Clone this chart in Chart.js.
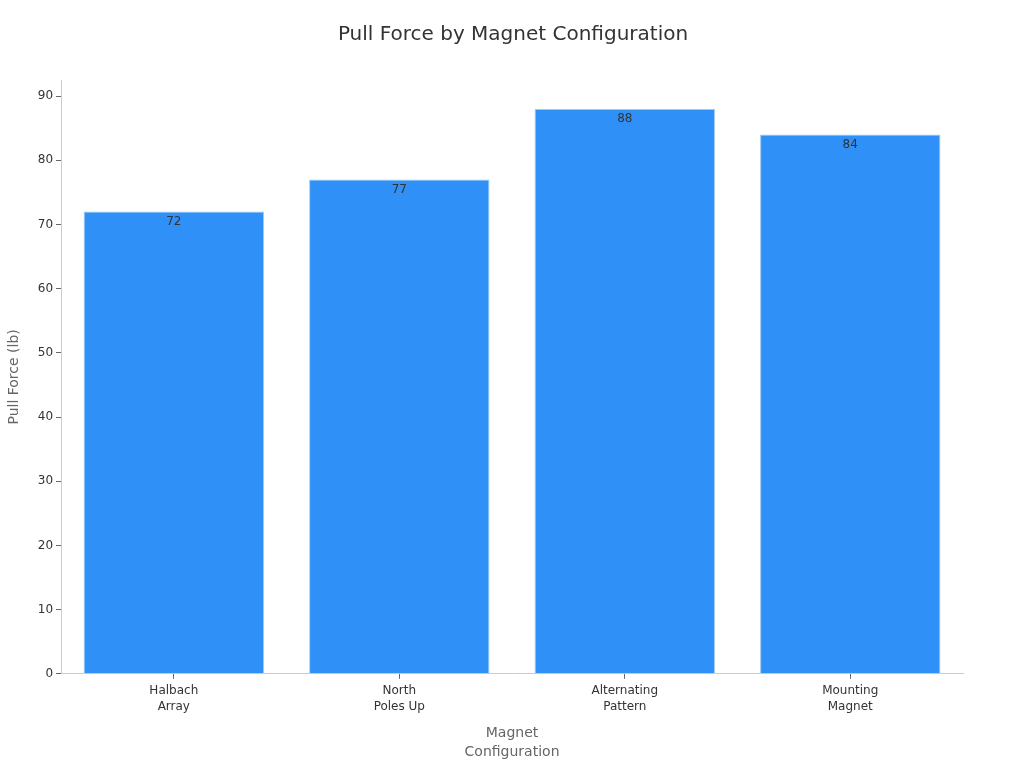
<!DOCTYPE html>
<html>
<head>
<meta charset="utf-8">
<title>Pull Force by Magnet Configuration</title>
<script src="https://cdn.jsdelivr.net/npm/chart.js@4"></script>
<style>
  html, body { margin: 0; padding: 0; background: #fff; }
  #wrap { width: 1024px; height: 768px; }
</style>
</head>
<body>
<div id="wrap"><canvas id="myChart"></canvas></div>
<script>
'use strict';
// chart data
const categories = [['Halbach', 'Array'], ['North', 'Poles Up'], ['Alternating', 'Pattern'], ['Mounting', 'Magnet']];
const pullForce = [72, 77, 88, 84];
const yTicks = [0, 10, 20, 30, 40, 50, 60, 70, 80, 90];

const FONT = "'DejaVu Sans', sans-serif";
Chart.defaults.font.family = FONT;

// draws the value just inside the top of each bar
const barLabels = {
  id: 'barLabels',
  afterDatasetsDraw(chart) {
    const ctx = chart.ctx;
    const meta = chart.getDatasetMeta(0);
    ctx.save();
    ctx.font = '12px ' + FONT;
    ctx.fillStyle = '#333333';
    ctx.textAlign = 'center';
    ctx.textBaseline = 'top';
    meta.data.forEach(function (bar, i) {
      ctx.fillText(String(pullForce[i]), bar.x, bar.y + 4);
    });
    ctx.restore();
  }
};

const ctx = document.getElementById('myChart').getContext('2d');
new Chart(ctx, {
  type: 'bar',
  data: {
    labels: categories,
    datasets: [
      {
        label: 'Pull Force (lb)',
        data: pullForce,
        backgroundColor: '#2F91F8',
        borderColor: '#9CC9F5',
        borderWidth: 1,
        barPercentage: 0.8,
        categoryPercentage: 1,
      },
    ],
  },
  options: {
    responsive: true,
    maintainAspectRatio: false,
    animation: false,
    layout: { padding: { top: 13, right: 0, bottom: 2, left: 2 } },
    plugins: {
      legend: { display: false },
      tooltip: { enabled: false },
      title: {
        display: true,
        text: 'Pull Force by Magnet Configuration',
        color: '#333333',
        font: { size: 20, weight: 'normal' },
        padding: { top: 10, bottom: 33 },
      },
    },
    scales: {
      x: {
        border: { color: '#cccccc' },
        grid: { display: true, offset: false, drawOnChartArea: false, drawTicks: true, tickLength: 5, color: '#666666' },
        ticks: { color: '#333333', font: { size: 12, lineHeight: 1.35 }, maxRotation: 0, padding: 4 },
        title: {
          display: true,
          text: ['Magnet', 'Configuration'],
          color: '#666666',
          font: { size: 14, lineHeight: 1.35 },
          padding: { top: 5 },
        },
      },
      y: {
        min: 0,
        max: 92.5,
        border: { color: '#cccccc' },
        grid: { display: true, drawOnChartArea: false, drawTicks: true, tickLength: 5, color: '#666666' },
        afterBuildTicks: function (axis) {
          axis.ticks = yTicks.map(function (v) { return { value: v }; });
        },
        ticks: { color: '#333333', font: { size: 12 }, padding: 3 },
        title: {
          display: true,
          text: 'Pull Force (lb)',
          color: '#666666',
          font: { size: 14 },
          padding: { bottom: 12 },
        },
      },
      // empty spacer on the right so the plot ends where the reference does
      spacer: {
        type: 'linear',
        position: 'right',
        display: true,
        grid: { display: false },
        border: { display: false },
        ticks: { display: false },
        afterFit: function (axis) { axis.width = 61; },
      },
    },
  },
  plugins: [barLabels],
});
</script>
</body>
</html>
